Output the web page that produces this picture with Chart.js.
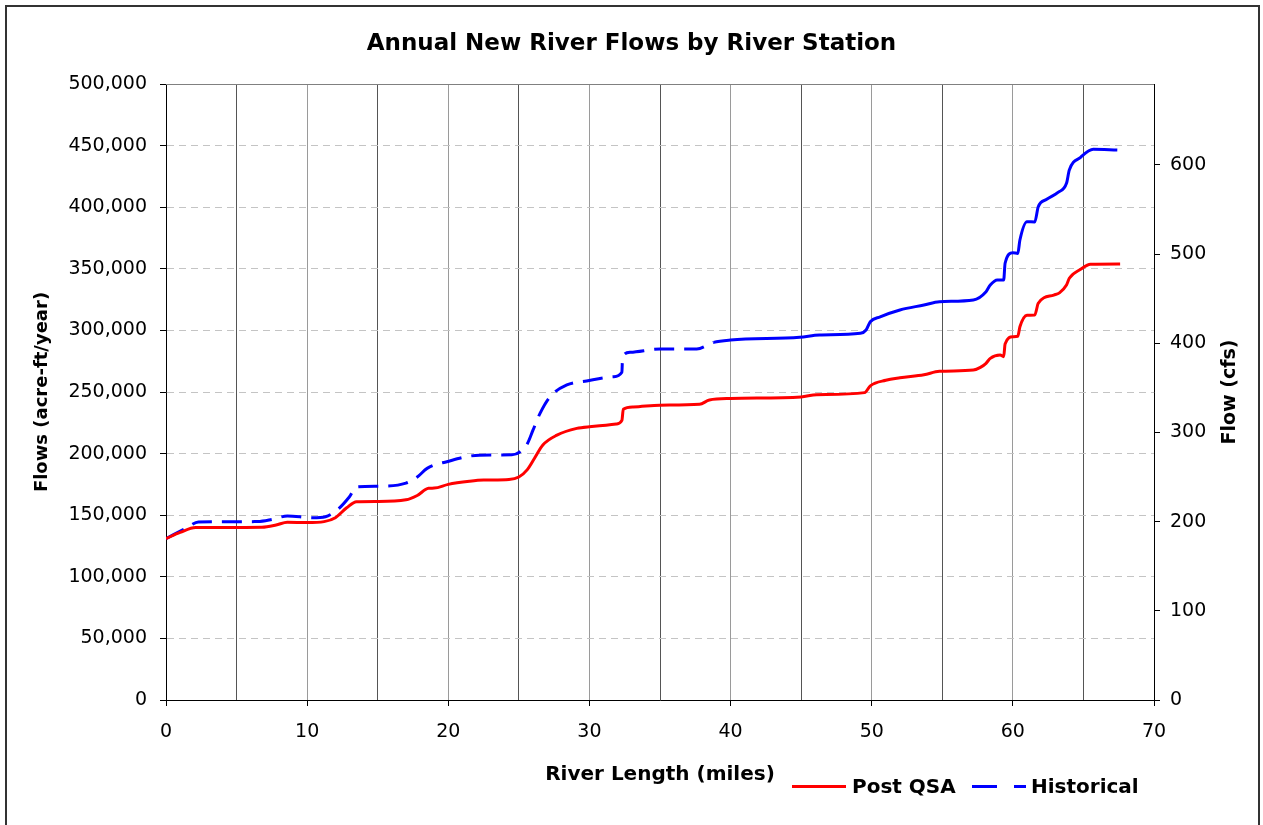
<!DOCTYPE html>
<html>
<head>
<meta charset="utf-8">
<title>Annual New River Flows by River Station</title>
<script src="https://cdn.jsdelivr.net/npm/chart.js@4.4.1/dist/chart.umd.min.js"></script>
<style>
  body { margin: 0; background: #fff; }
  #wrap { position: relative; width: 1263px; height: 825px; overflow: hidden; background: #fff; }
  #frame { position: absolute; left: 5px; top: 5px; width: 1255px; height: 840px;
           border: 2px solid #333; box-sizing: border-box; pointer-events: none; }
  canvas { position: absolute; left: 0; top: 0; }
  .lg { position: absolute; font: bold 20px "DejaVu Sans", sans-serif; color: #000; line-height: 24px; white-space: nowrap; }
  .sw { position: absolute; height: 3px; }
</style>
</head>
<body>
<div id="wrap">
  <canvas id="flowChart" width="1263" height="825"></canvas>
  <div id="frame"></div>
  <!-- legend, bottom right like the original -->
  <div class="sw" style="left:792px; top:785px; width:54px; background:#ff0000;"></div>
  <div class="lg" style="left:852px; top:774px;">Post QSA</div>
  <div class="sw" style="left:972px; top:785px; width:25px; background:#0000ff;"></div>
  <div class="sw" style="left:1014px; top:785px; width:12px; background:#0000ff;"></div>
  <div class="lg" style="left:1031px; top:774px;">Historical</div>
</div>
<script>
/* river mile vs annual flow (acre-ft/year) */
const postQsaMiles = [0, 1, 2.1, 4, 6.8, 7.8, 8.6, 10, 11.2, 12, 12.8, 13.5, 15, 17, 17.8, 18.6, 19,
  20, 21.5, 22.5, 24.3, 25, 25.6, 26.1, 26.7, 27.7, 29.1, 30, 31.9, 32.3, 32.4, 33.1, 35, 37.8,
  38.5, 40, 45, 46.1, 49.5, 49.9, 51, 52, 53.7, 54.8, 57.2, 57.7, 58.1, 58.4, 59.1, 59.35, 59.45,
  60, 60.35, 60.5, 61, 61.55, 61.8, 62.9, 63.3, 63.8, 64, 64.8, 65.5, 67.6];
const postQsaFlows = [131000, 136000, 140000, 140000, 140200, 142000, 144300, 144000, 144800, 148000,
  156000, 161000, 161200, 162500, 166000, 171800, 172000, 175000, 177500, 178500, 179000, 181000,
  187000, 196000, 207000, 215000, 220500, 221800, 224000, 227000, 236000, 237800, 239300, 240000,
  243500, 244700, 246000, 247800, 249500, 255000, 259500, 261500, 264000, 266800, 267800, 270000,
  273300, 277300, 280000, 278700, 289000, 294900, 295200, 303000, 312300, 312500, 322000, 328700,
  330500, 336900, 342300, 349600, 353700, 353900];

const historicalMiles = [0, 1.5, 2.3, 6.5, 7.5, 8.6, 10.4, 11.3, 12.2, 13, 13.5, 15, 17, 17.8, 18.5,
  19.9, 22.2, 24.5, 25.1, 25.6, 26, 26.5, 27.2, 28.4, 29.8, 31.7, 32.3, 32.35, 32.9, 35, 37.6, 38.8,
  40, 44.9, 46.3, 49.2, 49.6, 49.9, 50.6, 52, 53.7, 54.8, 57.2, 58.1, 58.4, 58.9, 59.35, 59.45, 60,
  60.35, 60.5, 61, 61.55, 61.8, 62.4, 63.2, 63.8, 64, 64.8, 65.7, 67.4];
const historicalFlows = [131000, 140000, 144500, 144800, 146500, 149400, 148000, 148800, 155000,
  165000, 173000, 173500, 176000, 181000, 188000, 193400, 198700, 199000, 201500, 208000, 219000,
  232700, 246000, 255700, 259000, 262400, 266000, 278700, 282200, 284900, 285000, 290300, 292200,
  294400, 296300, 297600, 300300, 307000, 311000, 316600, 320600, 323300, 324700, 331400, 336900,
  341000, 341000, 354500, 363000, 362500, 373400, 388200, 388000, 400400, 406400, 412000, 419400,
  430200, 440500, 447000, 446400];

// right-hand axis labels (cfs)
const cfsTicks = [0, 100, 200, 300, 400, 500, 600];

const ACFT_PER_CFS = 724;     // 1 cfs for a year ~ 724 acre-ft
const FLOW_MAX = 500000;

const tickFont = { family: 'DejaVu Sans', size: 19 };
const toPts = (xs, ys) => xs.map((x, i) => ({ x, y: ys[i] }));

/* plot frame top edge + right axis title (reads bottom-up like the left one) */
const extras = {
  id: 'extras',
  beforeDatasetsDraw(chart) {
    const { ctx, chartArea: a } = chart;
    ctx.save();
    ctx.strokeStyle = '#808080';
    ctx.lineWidth = 1;
    ctx.beginPath();
    ctx.moveTo(a.left, a.top + 0.5);
    ctx.lineTo(a.right, a.top + 0.5);
    ctx.stroke();
    ctx.restore();
  },
  afterDraw(chart) {
    const { ctx, chartArea: a } = chart;
    ctx.save();
    ctx.translate(1230, (a.top + a.bottom) / 2);
    ctx.rotate(-Math.PI / 2);
    ctx.font = 'bold 19px "DejaVu Sans"';
    ctx.fillStyle = '#000';
    ctx.textAlign = 'center';
    ctx.textBaseline = 'middle';
    ctx.fillText('Flow (cfs)', 0, 0);
    ctx.restore();
  }
};

new Chart(document.getElementById('flowChart'), {
  type: 'line',
  data: {
    datasets: [
      {
        label: 'Post QSA',
        data: toPts(postQsaMiles, postQsaFlows),
        borderColor: '#ff0000',
        borderWidth: 3,
        pointRadius: 0,
        cubicInterpolationMode: 'monotone',
        yAxisID: 'y'
      },
      {
        label: 'Historical',
        data: toPts(historicalMiles, historicalFlows),
        borderColor: '#0000ff',
        borderWidth: 3,
        pointRadius: 0,
        cubicInterpolationMode: 'monotone',
        // the original dashes break up where points are sparse, look solid further down river
        segment: { borderDash: c => c.p0.parsed.x < 38.5 ? [20, 10] : undefined },
        yAxisID: 'y'
      }
    ]
  },
  options: {
    responsive: false,
    animation: false,
    layout: { padding: 0 },
    plugins: {
      legend: { display: false },
      tooltip: { enabled: false },
      title: {
        display: true,
        text: 'Annual New River Flows by River Station',
        color: '#000',
        font: { family: 'DejaVu Sans', size: 23, weight: 'bold' },
        padding: { top: 30, bottom: 26.4 }
      }
    },
    scales: {
      x: {
        type: 'linear',
        min: 0, max: 70,
        ticks: {
          stepSize: 5,
          autoSkip: false,
          maxRotation: 0,
          padding: 15,
          color: '#000',
          font: tickFont,
          callback: v => v % 10 === 0 ? v : ''
        },
        grid: {
          color: c => c.tick && c.tick.value % 10 === 0 ? '#9a9a9a' : '#555',
          tickColor: c => c.tick && c.tick.value % 10 === 0 ? '#000' : 'rgba(0,0,0,0)',
          tickLength: 6
        },
        border: { color: '#000', width: 1 },
        title: {
          display: true,
          text: 'River Length (miles)',
          color: '#000',
          font: { family: 'DejaVu Sans', size: 20, weight: 'bold' },
          padding: { top: 0, bottom: 38 }
        },
        afterFit: s => { s.height = 125; }
      },
      y: {
        position: 'left',
        min: 0, max: FLOW_MAX,
        ticks: {
          stepSize: 50000,
          padding: 13,
          color: '#000',
          font: tickFont,
          callback: v => v.toLocaleString('en-US')
        },
        grid: {
          color: '#c4c4c4',
          tickColor: '#000',
          tickLength: 6,
          tickBorderDash: []
        },
        border: { color: '#000', width: 1, dash: [7, 5] },
        title: {
          display: true,
          text: 'Flows (acre-ft/year)',
          color: '#000',
          font: { family: 'DejaVu Sans', size: 18, weight: 'bold' },
          padding: { top: 32, bottom: 0 }
        },
        afterFit: s => { s.width = 166; }
      },
      cfs: {
        type: 'linear',
        position: 'right',
        min: 0, max: FLOW_MAX / ACFT_PER_CFS,
        ticks: {
          autoSkip: false,
          padding: 10,
          color: '#000',
          font: tickFont,
          callback: v => String(v)
        },
        afterBuildTicks: s => { s.ticks = cfsTicks.map(v => ({ value: v })); },
        grid: { drawOnChartArea: false, tickColor: '#000', tickLength: 6 },
        border: { color: '#000', width: 1 },
        afterFit: s => { s.width = 109; }
      }
    }
  },
  plugins: [extras]
});
</script>
</body>
</html>
